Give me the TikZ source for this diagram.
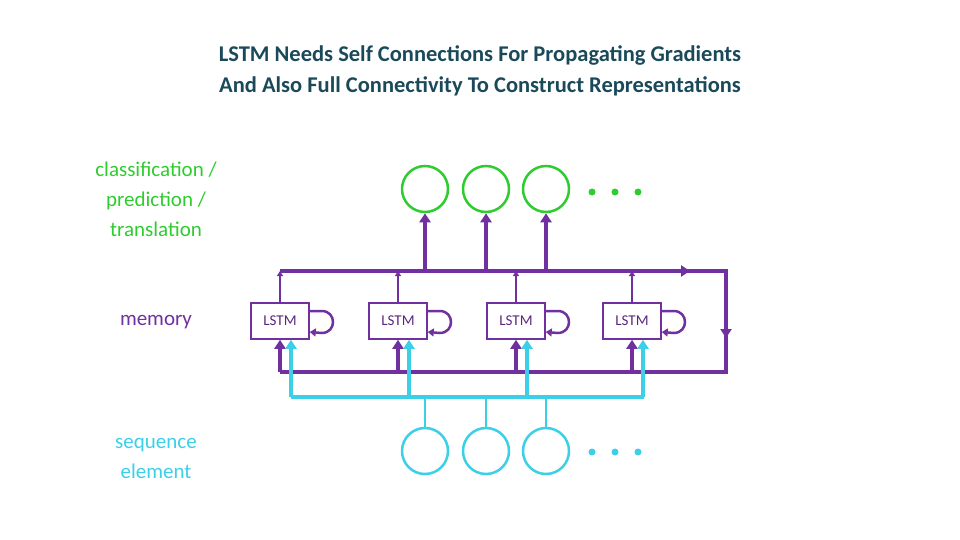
\documentclass[tikz,border=0pt]{standalone}
\usepackage{fontspec}
\setmainfont{Carlito}
\usetikzlibrary{arrows.meta}
\definecolor{pur}{HTML}{7030A0}
\definecolor{grn}{HTML}{2ECC2E}
\definecolor{cyn}{HTML}{3CCFE8}
\definecolor{ttl}{HTML}{1A4A5A}
\begin{document}
\begin{tikzpicture}[x=1pt,y=-1pt,
 box/.style={draw=pur,line width=1.5pt,minimum width=58pt,minimum height=36pt,inner sep=0pt,font=\fontsize{15}{16}\selectfont,text=pur!80!black},
 gc/.style={circle,draw=grn,line width=2.5pt,minimum size=46pt,inner sep=0pt},
 cc/.style={circle,draw=cyn,line width=2.5pt,minimum size=46pt,inner sep=0pt},
 lbl/.style={align=center,font=\fontsize{21}{30}\selectfont},
 pt/.style={line width=4pt,pur},
 ct/.style={line width=4pt,cyn},
 tip/.style={-{Triangle[length=9pt,width=11pt]}},
 stip/.style={-{Triangle[length=5pt,width=6pt]}},
 dot/.style={circle,fill,inner sep=0pt,minimum size=7pt}]
\useasboundingbox (0,0) rectangle (960,540);
\node[font=\bfseries\fontsize{22.5}{31}\selectfont,text=ttl,align=center] (t) at (480,71) {LSTM Needs Self Connections For Propagating Gradients\\And Also Full Connectivity To Construct Representations};
\node[lbl,text=grn] (l1) at (156,199) {classification /\\prediction /\\translation};
\node[lbl,text=pur] (l2) at (156,322) {memory};
\node[lbl,text=cyn] (l3) at (156,458) {sequence\\element};
% circles
\foreach \i/\x in {1/425,2/486,3/546}{
 \node[gc] (g\i) at (\x,189) {};
 \node[cc] (c\i) at (\x,451) {};
 \coordinate (gt\i) at (\x,271);
 \coordinate (cb\i) at (\x,397);
}
\foreach \y/\c in {192/grn,452/cyn}{
 \node[dot,fill=\c] (d1\c) at (592,\y) {};
 \node[dot,fill=\c] (d2\c) at (615,\y) {};
 \node[dot,fill=\c] (d3\c) at (638,\y) {};
}
% buses
\coordinate (tl) at (280,271); \coordinate (tr) at (726,271);
\coordinate (bl) at (280,372); \coordinate (br) at (726,372);
\coordinate (cl) at (291,397); \coordinate (cr) at (644,397);
\coordinate (tm) at (690,271); \coordinate (rm) at (726,338);
\draw[pt] (tl) -- (tr) -- (br) -- (bl);
\draw[pt,tip] (tl) -- (tm);
\draw[pt,tip] (tr) -- (rm);
\draw[ct] (cl) -- (cr);
\foreach \i in {1,2,3}{
 \draw[pt,line width=3.5pt,tip] (gt\i) -- (g\i.south);
 \draw[ct,line width=2pt] (c\i.north) -- (cb\i);
}
\foreach \i/\x in {1/280,2/398,3/516,4/632}{
 \node[box] (b\i) at (\x,321) {LSTM};
 \coordinate (bt\i) at (\x,271);
 \coordinate (pb\i) at (\x,372);
 \coordinate (cu\i) at (\x+11,397);
 \draw[pur,line width=1.5pt,stip] (b\i.north) -- (bt\i);
 \draw[pt,line width=3.5pt,tip] (pb\i) -- (b\i.south);
 \draw[ct,tip] (cu\i) -- (b\i.south -| cu\i);
 \draw[pur,line width=2.5pt,-{Triangle[length=6pt,width=8pt]}] ([yshift=10pt]b\i.east) -- ++(12,0) .. controls +(15,0) and +(15,0) .. ++(0,22) -- ([yshift=-11pt]b\i.east);
}
\end{tikzpicture}
\end{document}
